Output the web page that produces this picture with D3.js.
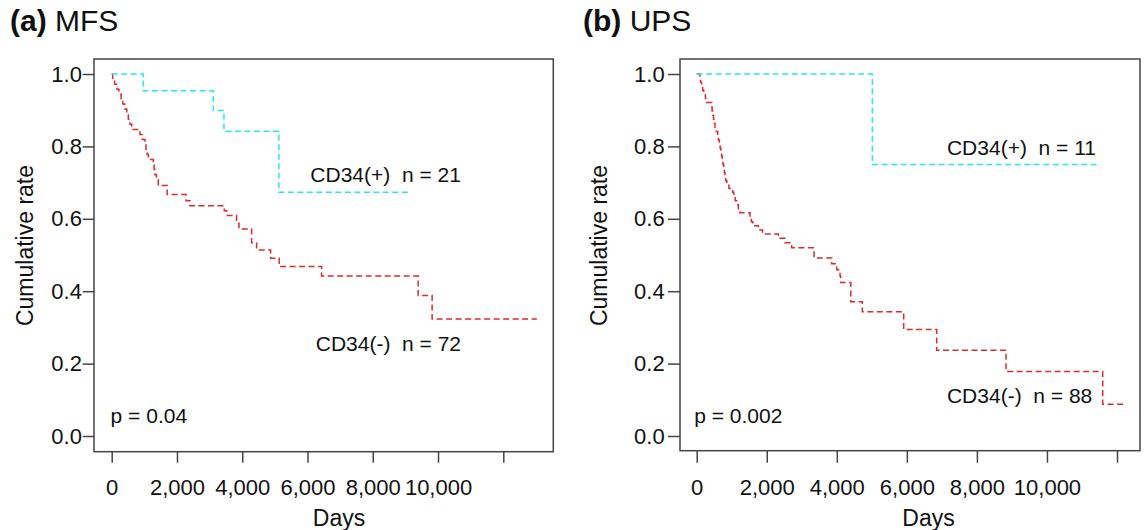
<!DOCTYPE html>
<html>
<head>
<meta charset="utf-8">
<script src="https://cdn.jsdelivr.net/npm/d3@7"></script>
<style>
  html, body { margin: 0; padding: 0; background: #fff; }
  svg { display: block; font-family: "Liberation Sans", Arial, sans-serif; }
  text { white-space: pre; }
</style>
</head>
<body>
<svg id="chart" width="1147" height="530"></svg>
<script>
// ---------------- data ----------------
const xTickValues = [0, 2000, 4000, 6000, 8000, 10000, 12000];
const yTickValues = [0, 0.2, 0.4, 0.6, 0.8, 1.0];

// (a) MFS  [days, cumulative rate]
const mfsPositive = [[0,1],[968,0.954],[3112,0.899],[3440,0.842],[5124,0.673],[9167,0.673]];
const mfsNegative = [[0,1],[30,0.986],[90,0.972],[160,0.958],[220,0.944],[290,0.931],[340,0.917],[400,0.903],
  [460,0.889],[510,0.875],[560,0.861],[613,0.847],[867,0.833],[940,0.819],[1020,0.806],[1050,0.792],
  [1085,0.778],[1122,0.764],[1275,0.75],[1300,0.736],[1327,0.722],[1370,0.708],[1428,0.692],[1700,0.667],
  [2276,0.650],[2398,0.636],[3450,0.622],[3521,0.609],[3828,0.588],[3900,0.572],[4287,0.534],[4440,0.514],
  [4870,0.491],[5133,0.468],[6432,0.442],[9391,0.388],[9819,0.323],[13029,0.323]];

// (b) UPS  [days, cumulative rate]
const upsPositive = [[0,1],[5014,0.75],[11490,0.75]];
const upsNegative = [[0,1],[90,0.989],[110,0.977],[140,0.966],[170,0.955],[200,0.943],[250,0.932],[285,0.921],
  [428,0.909],[440,0.898],[460,0.886],[480,0.875],[500,0.864],[523,0.852],[560,0.841],[600,0.830],[620,0.818],
  [646,0.807],[670,0.795],[690,0.784],[713,0.773],[730,0.761],[750,0.750],[770,0.739],[790,0.727],[808,0.716],
  [830,0.705],[860,0.693],[920,0.684],[1028,0.673],[1060,0.662],[1100,0.650],[1142,0.639],[1190,0.628],
  [1237,0.617],[1523,0.604],[1560,0.592],[1600,0.581],[1760,0.569],[1880,0.558],[2331,0.546],[2522,0.534],
  [2712,0.520],[3350,0.492],[3854,0.476],[4000,0.459],[4093,0.442],[4110,0.424],[4400,0.371],[4728,0.343],
  [5910,0.294],[6852,0.237],[8831,0.178],[11592,0.088],[12180,0.088]];

const panelTitles = [["(a)", "MFS"], ["(b)", "UPS"]];
const positiveLabels = ["CD34(+)  n = 21", "CD34(+)  n = 11"];
const negativeLabels = ["CD34(-)  n = 72", "CD34(-)  n = 88"];
const pValues = ["p = 0.04", "p = 0.002"];

// ---------------- drawing ----------------
const svg = d3.select("#chart");
const CYAN = "#2ce6ee";
const RED = "#dc2c2c";
const FRAME = "#444";

const panels = [
  { title: panelTitles[0], pos: mfsPositive, neg: mfsNegative,
    posLabel: positiveLabels[0], negLabel: negativeLabels[0], p: pValues[0],
    frame: {x0: 94, y0: 59, x1: 553.3, y1: 451.7}, xr: [111.7, 503.3], yr: [436, 74],
    titleX: 10, yTick: 11.3, yPad: 0.8, xTick: 11, yLabelX: 33, daysX: 339,
    posText: {d: 6088, v: 0.702}, negText: {d: 6252, v: 0.234}, pText: {d: -33, v: 0.037} },
  { title: panelTitles[1], pos: upsPositive, neg: upsNegative,
    posLabel: positiveLabels[1], negLabel: negativeLabels[1], p: pValues[1],
    frame: {x0: 680, y0: 59, x1: 1140, y1: 450.7}, xr: [696.7, 1117], yr: [436, 74],
    titleX: 583, yTick: 12, yPad: 3.3, xTick: 12, yLabelX: 606.5, daysX: 928.5,
    posText: {d: 7145, v: 0.775}, negText: {d: 7145, v: 0.0905}, pText: {d: -72, v: 0.037} }
];

panels.forEach(P => {
  const x = d3.scaleLinear().domain([0, 12000]).range(P.xr);
  const y = d3.scaleLinear().domain([0, 1]).range(P.yr);
  const g = svg.append("g");

  // title
  const t = g.append("text").attr("x", P.titleX).attr("y", 31)
    .attr("font-size", 30).attr("fill", "#111");
  t.append("tspan").attr("font-weight", "bold").text(P.title[0]);
  t.append("tspan").text(" " + P.title[1]);

  // frame
  g.append("rect")
    .attr("x", P.frame.x0).attr("y", P.frame.y0)
    .attr("width", P.frame.x1 - P.frame.x0).attr("height", P.frame.y1 - P.frame.y0)
    .attr("fill", "none").attr("stroke", FRAME).attr("stroke-width", 1.5);

  // x axis
  const xAxis = d3.axisBottom(x).tickValues(xTickValues)
    .tickFormat(d => d === 12000 ? "" : d3.format(",")(d))
    .tickSize(P.xTick).tickSizeOuter(0).tickPadding(16.7);
  const gx = g.append("g").attr("transform", `translate(0,${P.frame.y1})`).call(xAxis);
  gx.select(".domain").remove();
  gx.selectAll("line").attr("stroke", FRAME).attr("stroke-width", 1.5);
  gx.selectAll("text").attr("font-size", 22).attr("fill", "#111")
    .attr("font-family", '"Liberation Sans", Arial, sans-serif');

  // y axis
  const yAxis = d3.axisLeft(y).tickValues(yTickValues)
    .tickFormat(d3.format(".1f")).tickSize(P.yTick).tickSizeOuter(0).tickPadding(P.yPad);
  const gy = g.append("g").attr("transform", `translate(${P.frame.x0},0)`).call(yAxis);
  gy.select(".domain").remove();
  gy.selectAll("line").attr("stroke", FRAME).attr("stroke-width", 1.5);
  gy.selectAll("text").attr("font-size", 22).attr("fill", "#111")
    .attr("font-family", '"Liberation Sans", Arial, sans-serif');

  // axis titles
  g.append("text").attr("x", P.daysX).attr("y", 526).attr("text-anchor", "middle")
    .attr("font-size", 23).attr("fill", "#111").text("Days");
  g.append("text").attr("transform", `translate(${P.yLabelX},245.5) rotate(-90)`)
    .attr("text-anchor", "middle").attr("font-size", 23).attr("fill", "#111").text("Cumulative rate");

  // curves
  const line = d3.line().x(d => x(d[0])).y(d => y(d[1])).curve(d3.curveStepAfter);
  g.append("path").datum(P.neg).attr("d", line).attr("fill", "none")
    .attr("stroke", RED).attr("stroke-width", 1.5).attr("stroke-dasharray", "6,3.5");
  g.append("path").datum(P.pos).attr("d", line).attr("fill", "none")
    .attr("stroke", CYAN).attr("stroke-width", 1.5).attr("stroke-dasharray", "6,3.5");

  // annotations
  g.append("text").attr("x", x(P.posText.d)).attr("y", y(P.posText.v))
    .attr("font-size", 21).attr("fill", "#111").text(P.posLabel);
  g.append("text").attr("x", x(P.negText.d)).attr("y", y(P.negText.v))
    .attr("font-size", 21).attr("fill", "#111").text(P.negLabel);
  g.append("text").attr("x", x(P.pText.d)).attr("y", y(P.pText.v))
    .attr("font-size", 21).attr("fill", "#111").text(P.p);
});
</script>
</body>
</html>
